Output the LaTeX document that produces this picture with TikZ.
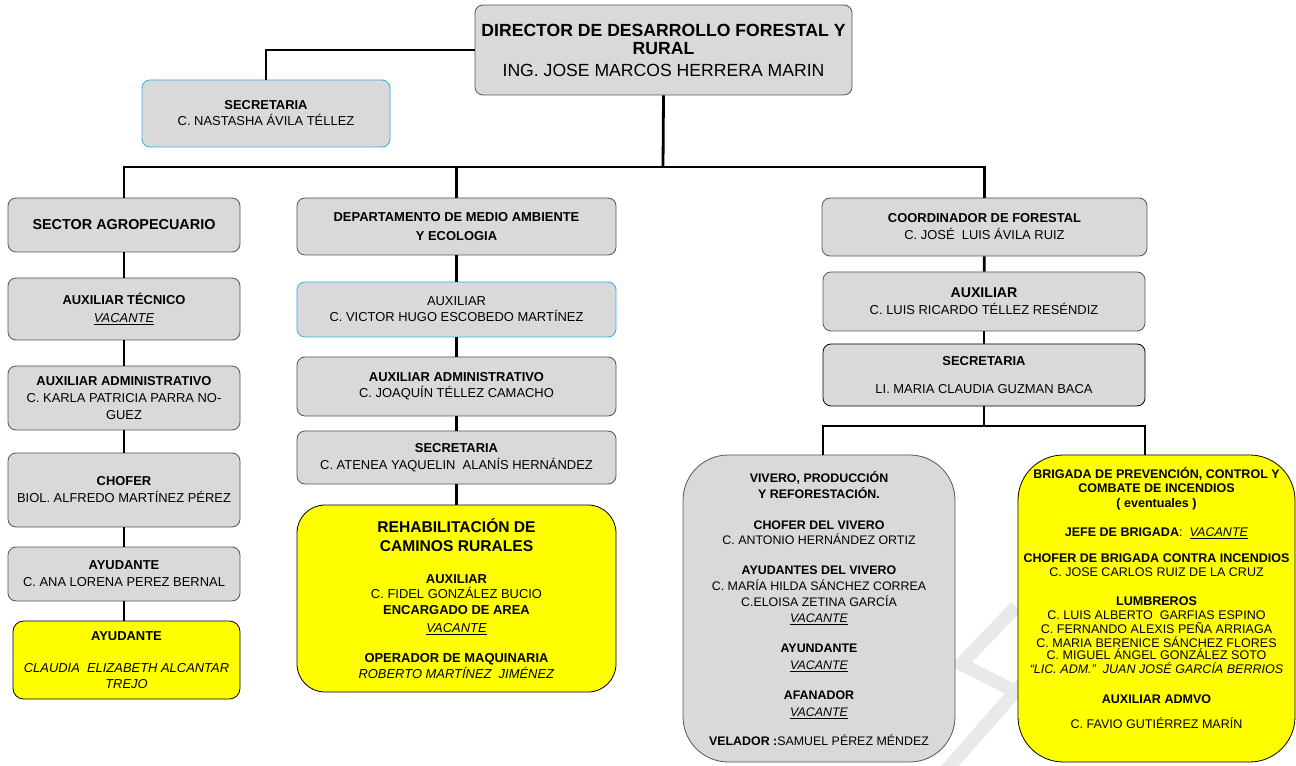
\documentclass[tikz,border=0pt]{standalone}
\usepackage{fontspec}
\setmainfont{Liberation Sans}
\usetikzlibrary{calc}
\definecolor{boxgray}{RGB}{217,217,217}
\definecolor{boxline}{RGB}{85,85,85}
\definecolor{boxyel}{RGB}{255,255,0}
\definecolor{skyline}{RGB}{45,175,228}
\definecolor{wmgray}{RGB}{233,233,233}
\newcommand{\vac}{\underline{\textit{VACANTE}}}
\tikzset{%
    box/.style={rectangle, rounded corners=6pt, draw=boxline, line width=0.6pt, fill=boxgray, align=center, inner sep=0pt, font=\fontsize{9.7}{12}\selectfont},
    boxa/.style={box, draw=skyline},
    boxy/.style={box, draw=black, fill=boxyel},
    lin/.style={line width=2.1pt},
    wm/.style={line width=10pt, wmgray},
}
\begin{document}
\begin{tikzpicture}[x=0.75pt,y=-0.75pt]
    \useasboundingbox[fill=white] (0,0) rectangle (1296,766);
    \draw [wm] (1016,607)--(961,664)--(1024,696);
    \draw [wm] (942,775)--(1022,684);
    \node [box, minimum width=282.75pt, minimum height=67.5pt, font=\fontsize{13.2}{13.5}\selectfont] (dir) at (663.5,50) {\textbf{DIRECTOR DE DESARROLLO FORESTAL Y}\\\textbf{RURAL}\\[3pt]ING. JOSE MARCOS HERRERA MARIN};
    \node [boxa, minimum width=186pt, minimum height=50.25pt] (sec1) at (266,113.5) {\textbf{SECRETARIA}\\C. NASTASHA ÁVILA TÉLLEZ};
    \node [box, minimum width=174pt, minimum height=40.5pt, font=\fontsize{10.8}{12}\selectfont] (sa) at (124,225) {\textbf{SECTOR AGROPECUARIO}};
    \node [box, minimum width=239.25pt, minimum height=42.75pt] (dma) at (456.5,226.5) {\textbf{DEPARTAMENTO DE MEDIO AMBIENTE}\\[2.2pt]\textbf{Y ECOLOGIA}};
    \node [box, minimum width=243.75pt, minimum height=43.5pt] (cf) at (984.5,227) {\textbf{COORDINADOR DE FORESTAL}\\[0.7pt]C. JOSÉ~ LUIS ÁVILA RUIZ};
    \node [box, minimum width=174pt, minimum height=46.5pt] (at) at (124,309) {\textbf{AUXILIAR TÉCNICO}\\[1.5pt]\vac};
    \node [box, minimum width=174pt, minimum height=48pt] (aa) at (124,398) {\textbf{AUXILIAR ADMINISTRATIVO}\\[0.7pt]C. KARLA PATRICIA PARRA NO-\\[0.7pt]GUEZ};
    \node [box, minimum width=174pt, minimum height=55.5pt] (ch) at (124,490) {\textbf{CHOFER}\\[0.7pt]BIOL. ALFREDO MARTÍNEZ PÉREZ};
    \node [box, minimum width=174pt, minimum height=40.5pt] (ay) at (124,574) {\textbf{AYUDANTE}\\[0.7pt]C. ANA LORENA PEREZ BERNAL};
    \node [boxy, rounded corners=8pt, minimum width=170.25pt, minimum height=58.5pt] (ay2) at (126.5,660) {\textbf{AYUDANTE}\\[12pt]\textit{CLAUDIA~ ELIZABETH ALCANTAR}\\\textit{TREJO}};
    \node [boxa, minimum width=239.25pt, minimum height=41.25pt] (aux) at (456.5,309.5) {AUXILIAR\\C. VICTOR HUGO ESCOBEDO MARTÍNEZ};
    \node [box, minimum width=239.25pt, minimum height=44.25pt] (adm) at (456.5,386.5) {\textbf{AUXILIAR ADMINISTRATIVO}\\C. JOAQUÍN TÉLLEZ CAMACHO};
    \node [box, minimum width=239.25pt, minimum height=39.75pt] (sec2) at (456.5,457.5) {\textbf{SECRETARIA}\\[0.7pt]C. ATENEA YAQUELIN~ ALANÍS HERNÁNDEZ};
    \node [boxy, rounded corners=21pt, minimum width=239.25pt, minimum height=140.25pt] (rc) at (456.5,598.5) {\textbf{\fontsize{11.7}{14}\selectfont REHABILITACIÓN DE}\\[2.2pt]\textbf{\fontsize{11.7}{14}\selectfont CAMINOS RURALES}\\[12pt]\textbf{AUXILIAR}\\[-0.8pt]C. FIDEL GONZÁLEZ BUCIO\\\textbf{ENCARGADO DE AREA}\\[1.5pt]\vac\\[10.5pt]\textbf{OPERADOR DE MAQUINARIA}\\\textit{ROBERTO MARTÍNEZ~ JIMÉNEZ}};
    \node [box, minimum width=241.5pt, minimum height=44.25pt] (aux3) at (984,301.5) {\textbf{\fontsize{10.6}{12}\selectfont AUXILIAR}\\[1pt]C. LUIS RICARDO TÉLLEZ RESÉNDIZ};
    \node [box, draw=black, minimum width=241.5pt, minimum height=46.5pt] (sec3) at (984,375) {\textbf{SECRETARIA}\\[9pt]LI. MARIA CLAUDIA GUZMAN BACA};
    \node [box, rounded corners=34pt, minimum width=204pt, minimum height=230.25pt, font=\fontsize{9.3}{12}\selectfont] (viv) at (819,608.5) {\textbf{VIVERO, PRODUCCIÓN}\\\textbf{Y REFORESTACIÓN.}\\[11pt]\textbf{CHOFER DEL VIVERO}\\[-0.8pt]C. ANTONIO HERNÁNDEZ ORTIZ\\[10.5pt]\textbf{AYUDANTES DEL VIVERO}\\C. MARÍA HILDA SÁNCHEZ CORREA\\C.ELOISA ZETINA GARCÍA\\\vac\\[10.5pt]\textbf{AYUNDANTE}\\[0.7pt]\vac\\[10.5pt]\textbf{AFANADOR}\\[0.7pt]\vac\\[10pt]\textbf{VELADOR :}SAMUEL PÉREZ MÉNDEZ};
    \node [boxy, rounded corners=34pt, minimum width=207.75pt, minimum height=230.25pt, font=\fontsize{9.4}{11}\selectfont] (br) at (1156.5,608.5) {\textbf{BRIGADA DE PREVENCIÓN, CONTROL Y}\\\textbf{COMBATE DE INCENDIOS}\\\textbf{( eventuales )}\\[10.75pt]\textbf{JEFE DE BRIGADA}:~ \vac\\[8.5pt]\textbf{CHOFER DE BRIGADA CONTRA INCENDIOS}\\[-0.5pt]C. JOSE CARLOS RUIZ DE LA CRUZ\\[10.5pt]\textbf{LUMBREROS}\\[-0.5pt]C. LUIS ALBERTO~ GARFIAS ESPINO\\[-0.5pt]C. FERNANDO ALEXIS PEÑA ARRIAGA\\C. MARIA BERENICE SÁNCHEZ FLORES\\[-2pt]C. MIGUEL ÁNGEL GONZÁLEZ SOTO\\[-0.5pt]\textit{“LIC. ADM.”~ JUAN JOSÉ GARCÍA BERRIOS}\\[11.5pt]\textbf{AUXILIAR ADMVO}\\[7.75pt]C. FAVIO GUTIÉRREZ MARÍN\\[5pt]~};
    \coordinate (bus) at (663,167);
    \coordinate (bus2) at (984,426);
    \draw [lin] (dir.west) -| (sec1.north);
    \draw [lin] (dir.south) -- (bus);
    \draw [lin] (sa.north) |- (bus) -| (cf.north);
    \draw [lin] (dma.north) -- (dma.north|-bus);
    \foreach \a/\b in {sa/at,at/aa,aa/ch,ch/ay,dma/aux,aux/adm,adm/sec2,sec2/rc,cf/aux3,aux3/sec3}
        \draw [lin] (\a) -- (\b);
    \draw [lin] (ay.south) -- (ay.south|-ay2.north);
    \draw [lin] (sec3.south) -- (bus2);
    \draw [lin] ([xshift=3pt]viv.north) |- (bus2) -| ([xshift=-8.6pt]br.north);
\end{tikzpicture}
\end{document}
